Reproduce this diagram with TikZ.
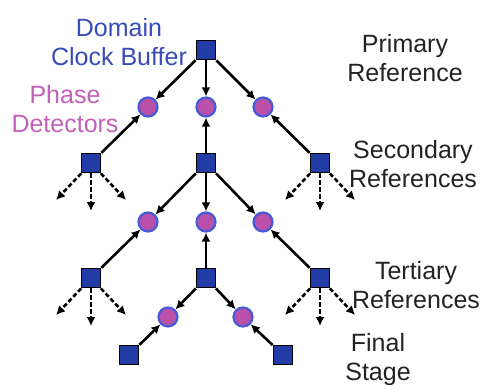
\documentclass[tikz,border=0pt]{standalone}
\usepackage{fontspec}
\setmainfont{Liberation Sans}
\usetikzlibrary{arrows.meta}
\definecolor{BufClr}{RGB}{35,60,165}
\definecolor{PdClr}{RGB}{185,80,170}
\definecolor{PdEdge}{RGB}{70,90,215}
\definecolor{DomClr}{RGB}{55,75,185}
\definecolor{PhClr}{RGB}{195,95,185}
\definecolor{LblClr}{RGB}{35,35,35}

\begin{document}
\begin{tikzpicture}[x=1pt,y=-1pt,
  buf/.style={draw=black,line width=1.8pt,fill=BufClr,minimum size=19pt,inner sep=0pt},
  pd/.style={circle,draw=PdEdge,line width=2.2pt,fill=PdClr,minimum size=19pt,inner sep=0pt},
  link/.style={line width=2.6pt,-{Latex[length=9pt,width=9pt]}},
  fan/.style={link,dash pattern=on 4.5pt off 2.5pt},
  lbl/.style={font=\fontsize{25}{29}\selectfont,align=center,anchor=base,inner sep=0pt}]
\useasboundingbox (0,0) rectangle (481,390);

\node[buf] (top) at (206,50) {};

\node[pd] (p1a) at (148,107) {};
\node[pd] (p1b) at (206,107) {};
\node[pd] (p1c) at (263,107) {};

\node[buf] (sa) at (91,163) {};
\node[buf] (sb) at (206,163) {};
\node[buf] (sc) at (320,163) {};

\node[pd] (p2a) at (148,222) {};
\node[pd] (p2b) at (206,222) {};
\node[pd] (p2c) at (263,222) {};

\node[buf] (ta) at (91,278) {};
\node[buf] (tb) at (206,278) {};
\node[buf] (tc) at (320,278) {};

\node[pd] (p3a) at (168,317) {};
\node[pd] (p3b) at (243,317) {};

\node[buf] (fa) at (129,355) {};
\node[buf] (fb) at (283,355) {};

\draw[link] (top) -- (p1a);
\draw[link] (top) -- (p1b);
\draw[link] (top) -- (p1c);
\draw[link] (sa) -- (p1a);
\draw[link] (sb) -- (p1b);
\draw[link] (sc) -- (p1c);

\draw[link] (sb) -- (p2a);
\draw[link] (sb) -- (p2b);
\draw[link] (sb) -- (p2c);
\draw[link] (ta) -- (p2a);
\draw[link] (tb) -- (p2b);
\draw[link] (tc) -- (p2c);

\draw[link] (tb) -- (p3a);
\draw[link] (tb) -- (p3b);
\draw[link] (fa) -- (p3a);
\draw[link] (fb) -- (p3b);

\foreach \n in {sa,sc,ta,tc}{
  \path (\n) ++(-35,37) coordinate (\n-l) (\n) ++(0,48) coordinate (\n-m) (\n) ++(35,37) coordinate (\n-r);
  \draw[fan] (\n) -- (\n-l);
  \draw[fan] (\n) -- (\n-m);
  \draw[fan] (\n) -- (\n-r);
}

\node[lbl,text=DomClr] (dom) at (119,66) {Domain\\Clock Buffer};
\node[lbl,text=PhClr] (phase) at (65,133) {Phase\\Detectors};
\node[lbl,text=LblClr] (prim) at (405,82) {Primary\\Reference};
\node[lbl,text=LblClr] (sec) at (413,187) {Secondary\\References};
\node[lbl,text=LblClr] (ter) at (416,308) {Tertiary\\References};
\node[lbl,text=LblClr] (fin) at (378,380) {Final\\Stage};

\end{tikzpicture}
\end{document}
